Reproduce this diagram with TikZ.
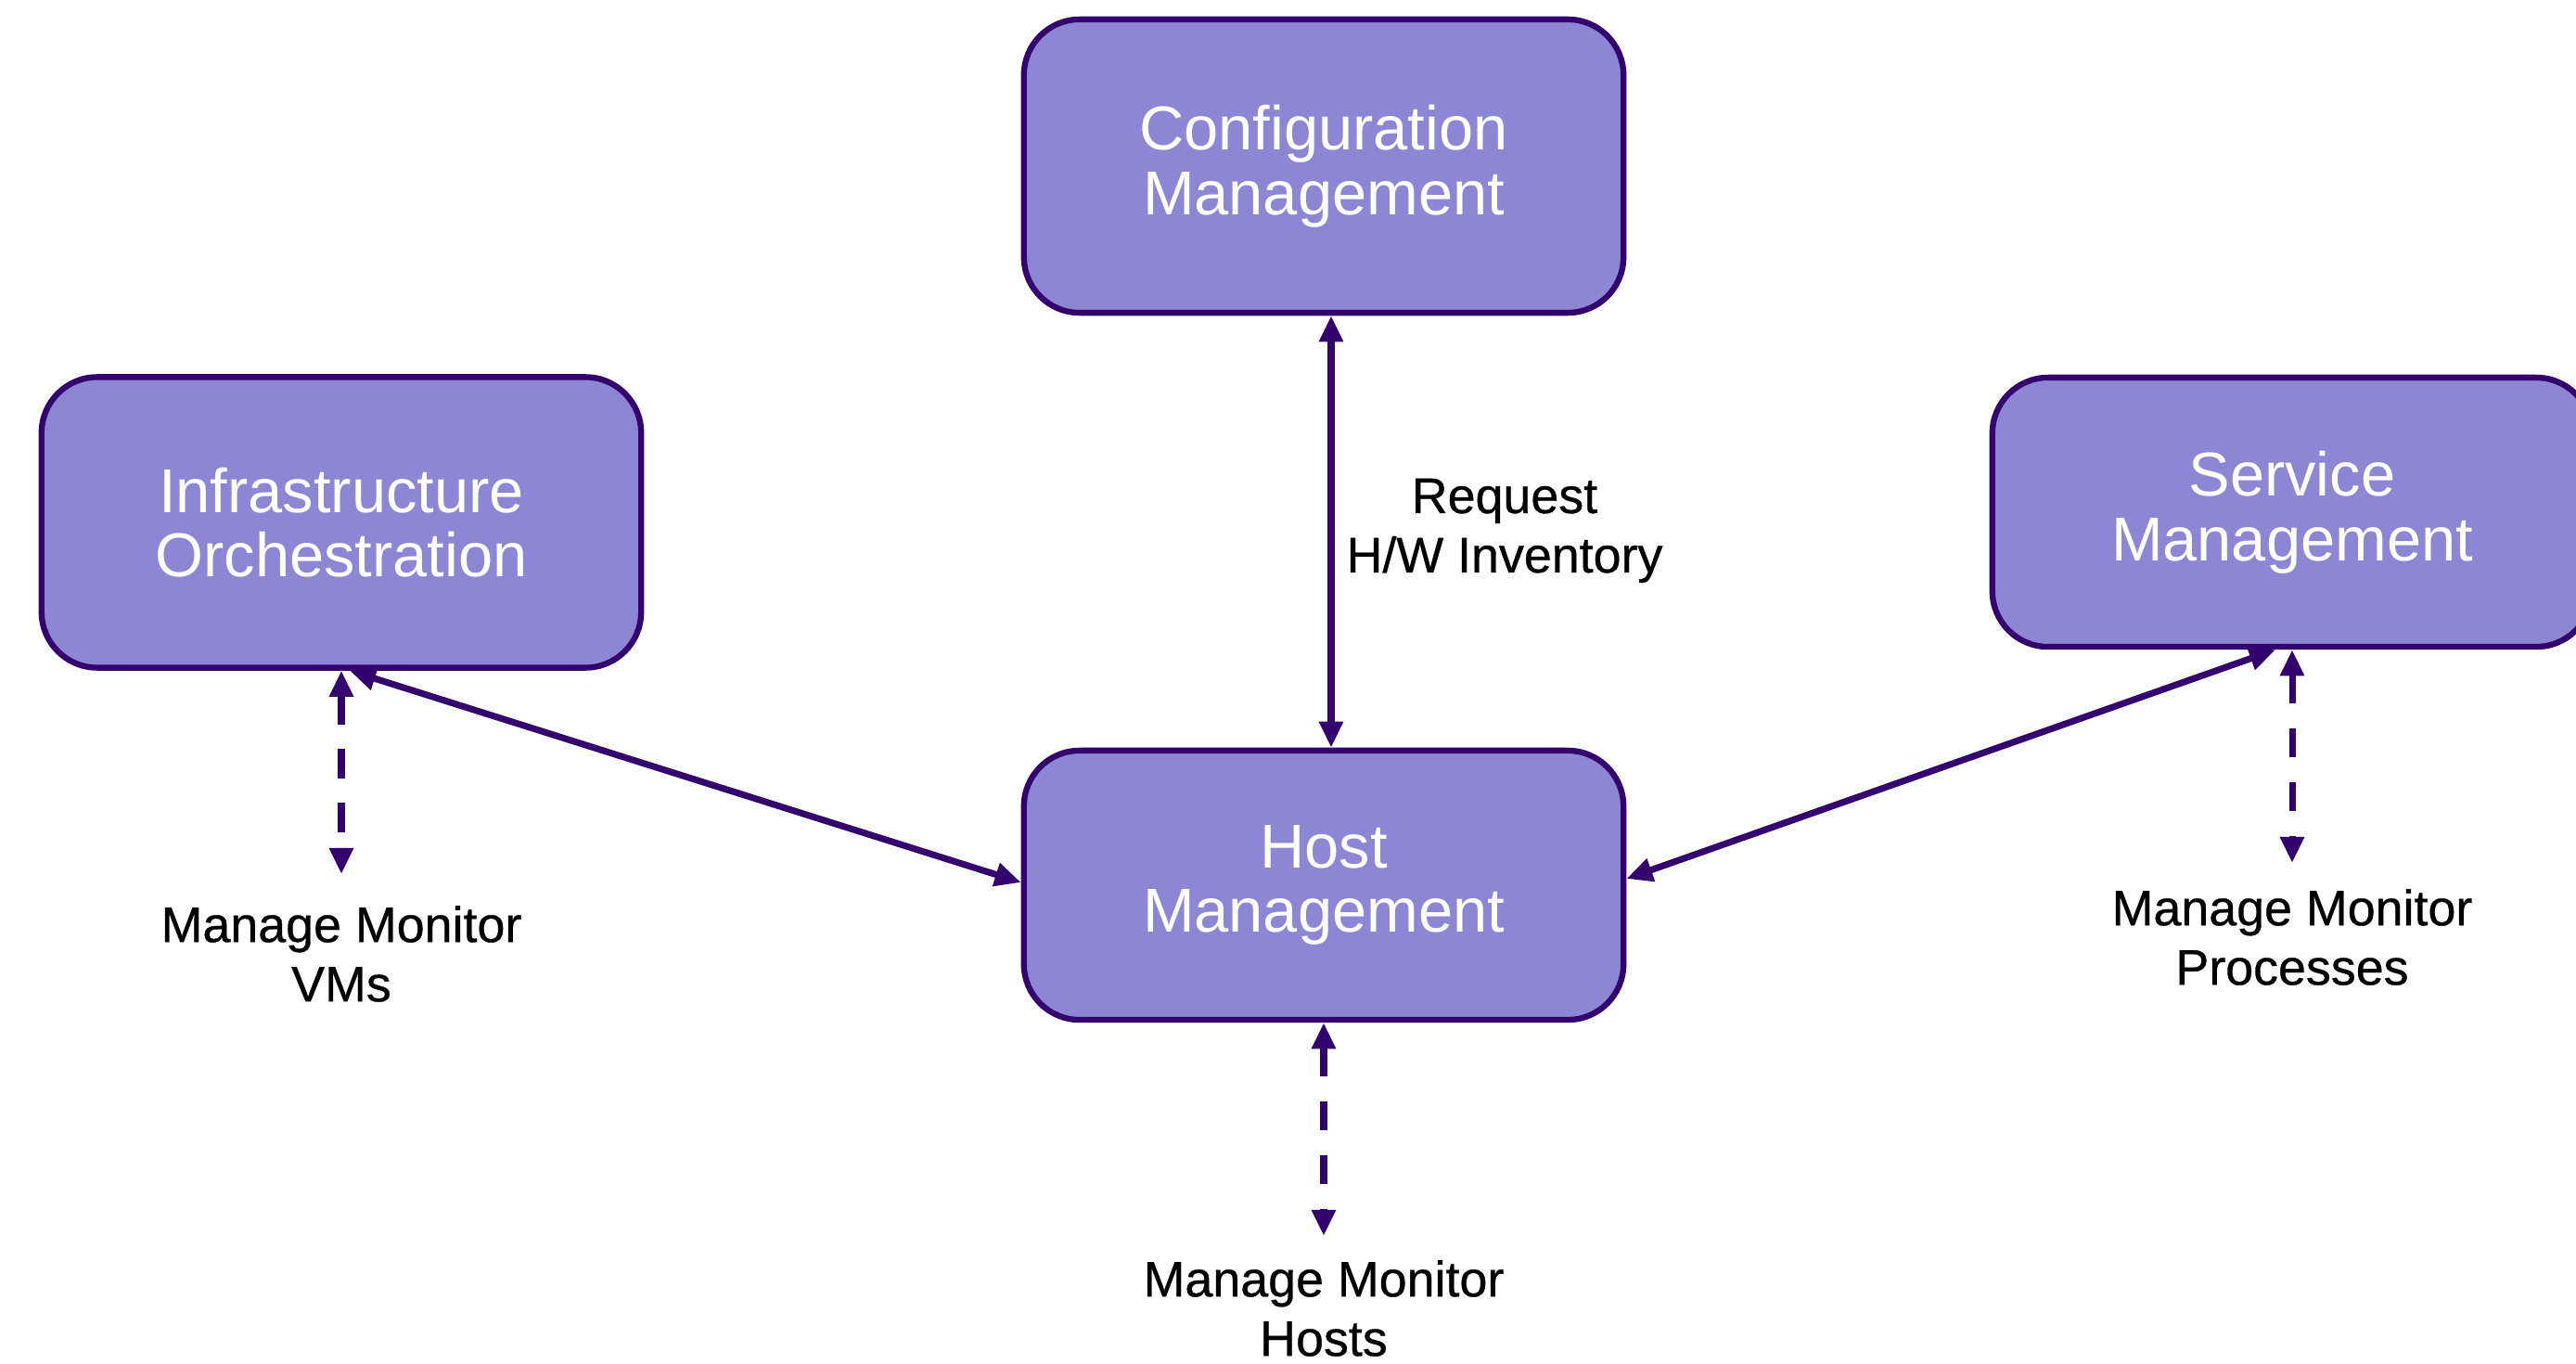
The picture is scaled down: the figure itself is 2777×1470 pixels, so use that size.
\documentclass[tikz,border=0pt]{standalone}
\usepackage{fontspec}
\setmainfont{Liberation Sans}
\newfontfamily\medfont[FakeBold=0.6]{Liberation Sans}
\usetikzlibrary{arrows.meta}
\definecolor{boxfill}{HTML}{8D86D5}
\definecolor{boxline}{HTML}{34006E}
\tikzset{
  mgmtbox/.style={draw=boxline, fill=boxfill, line width=1.8pt, rounded corners=0.6cm,
    minimum width=6.46cm, inner sep=0pt, align=center, text=white,
    font=\fontsize{19pt}{19.8pt}\selectfont},
  lbl/.style={align=center, text=black, inner sep=0pt, font=\medfont\fontsize{15.3pt}{18.2pt}\selectfont},
  link/.style={draw=boxline, line width=2pt, {Triangle[length=8pt,width=7pt]}-{Triangle[length=8pt,width=7pt]}},
  dlink/.style={link, dash pattern=on 9pt off 7.5pt}
}
\begin{document}
\begin{tikzpicture}[x=0.01cm,y=-0.01cm]
\useasboundingbox (0,0) rectangle (2777,1470);
\clip (0,0) rectangle (2777,1470);
\fill[white] (0,0) rectangle (2777,1470);

\node[mgmtbox, minimum height=3.16cm] (config) at (1427,179) {Configuration\\Management};
\node[mgmtbox, minimum height=3.13cm] (infra) at (368,563) {Infrastructure\\Orchestration};
\node[mgmtbox, minimum height=2.90cm] (service) at (2471,552) {Service\\Management};
\node[mgmtbox, minimum height=2.90cm] (host) at (1427,954) {Host\\Management};

\coordinate (vmend) at (368,942);
\coordinate (hostend) at (1427,1332);
\coordinate (procend) at (2471,930);

\node[lbl] (req) at (1622,572) {Request\\H/W Inventory};
\node[lbl] (vms) at (368,1028) {Manage Monitor\\VMs};
\node[lbl] (hosts) at (1427,1410) {Manage Monitor\\Hosts};
\node[lbl] (procs) at (2471,1010) {Manage Monitor\\Processes};

\draw[link] ([xshift=0.08cm]config.south) -- ([xshift=0.08cm]host.north);
\draw[link] ([xshift=0.09cm]infra.south) -- ([yshift=0.03cm]host.west);
\draw[link] ([xshift=-0.18cm]service.south) -- ([yshift=0.07cm]host.east);
\draw[dlink] (infra.south) -- (vmend);
\draw[dlink] (host.south) -- (hostend);
\draw[dlink] (service.south) -- (procend);
\end{tikzpicture}
\end{document}
